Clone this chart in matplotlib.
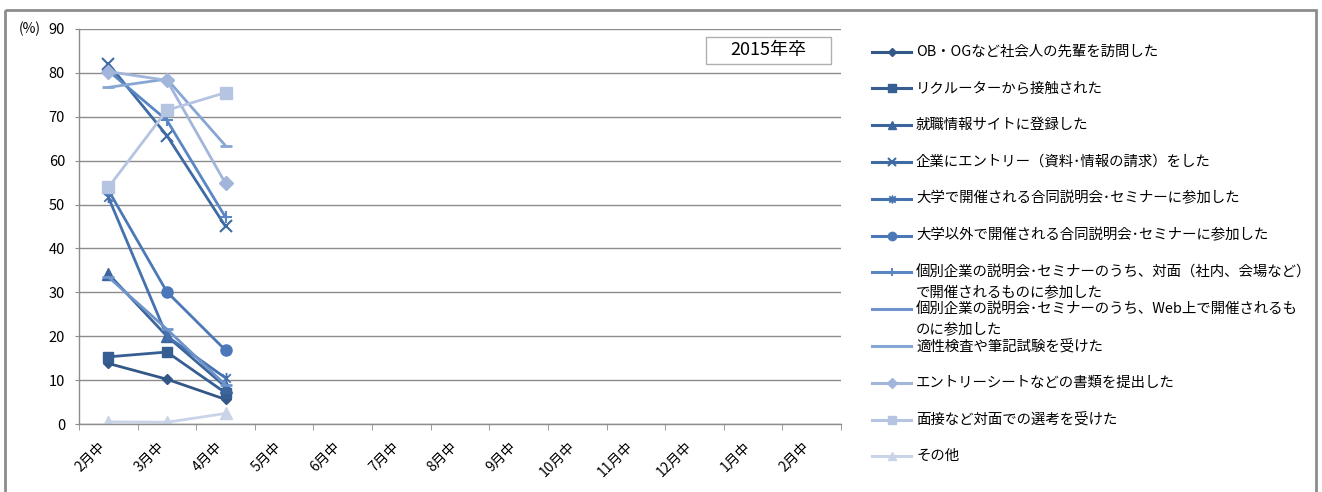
import numpy as np
import matplotlib
matplotlib.use("Agg")
import matplotlib.pyplot as plt
from matplotlib.path import Path
from matplotlib.patches import Rectangle
from matplotlib.lines import Line2D

plt.rcParams['font.family'] = ['Noto Sans CJK JP', 'DejaVu Sans']

categories = ["2月中", "3月中", "4月中", "5月中", "6月中", "7月中", "8月中",
              "9月中", "10月中", "11月中", "12月中", "1月中", "2月中"]

labels = [
    "OB・OGなど社会人の先輩を訪問した",
    "リクルーターから接触された",
    "就職情報サイトに登録した",
    "企業にエントリー（資料･情報の請求）をした",
    "大学で開催される合同説明会･セミナーに参加した",
    "大学以外で開催される合同説明会･セミナーに参加した",
    "個別企業の説明会･セミナーのうち、対面（社内、会場など）\nで開催されるものに参加した",
    "個別企業の説明会･セミナーのうち、Web上で開催されるも\nのに参加した",
    "適性検査や筆記試験を受けた",
    "エントリーシートなどの書類を提出した",
    "面接など対面での選考を受けた",
    "その他",
]

ob_visit      = [13.8, 10.2, 5.6]
recruiter     = [15.3, 16.4, 7.1]
job_site      = [34.2, 20.0, 8.5]
entry         = [82.1, 65.7, 45.0]
univ_seminar  = [51.7, 20.0, 10.5]
other_seminar = [53.3, 30.1, 16.8]
company_face  = [80.5, 69.2, 47.1]
company_web   = [33.5, 21.6, 8.9]
aptitude      = [76.7, 78.6, 63.4]
entry_sheet   = [80.3, 78.3, 54.8]
interview     = [53.9, 71.5, 75.5]
others        = [0.5, 0.4, 2.4]

series = [ob_visit, recruiter, job_site, entry, univ_seminar, other_seminar,
          company_face, company_web, aptitude, entry_sheet, interview, others]

colors = ["#335887", "#375E93", "#3B659C", "#3F6BA5", "#4571AE", "#4A78B8",
          "#5A86C4", "#6F94CB", "#88A6D3", "#A1B6DA", "#B5C4E1", "#C9D4E8"]

# Excel-like asterisk marker (x plus vertical bar)
ast = Path([(-1, -1), (1, 1), (-1, 1), (1, -1), (0, -1.3), (0, 1.3)],
           [Path.MOVETO, Path.LINETO, Path.MOVETO, Path.LINETO, Path.MOVETO, Path.LINETO])

markers = ['D', 's', '^', 'x', ast, 'o', '+', '_', '_', 'D', 's', '^']
msizes  = [5.5, 7.5, 8, 8, 8, 8, 8, 8, 8, 7, 8.5, 8.5]
mews    = [1, 1, 1, 1.5, 1.3, 1, 1.5, 2, 2, 1, 1, 1]

W, H = 1322, 492
fig = plt.figure(figsize=(W / 100, H / 100), dpi=100)

# outer frame
bg = fig.add_axes([0, 0, 1, 1])
bg.set_xlim(0, W)
bg.set_ylim(H, 0)
bg.axis('off')
bg.add_patch(Rectangle((5, 10), 1311, 490, fill=False, edgecolor='#8c8c8c', lw=2))

L, R, T, B = 79, 841, 29, 424
ax = fig.add_axes([L / W, (H - B) / H, (R - L) / W, (B - T) / H])
ax.set_xlim(-0.5, len(categories) - 0.5)
ax.set_ylim(0, 90)
ax.set_yticks(np.arange(0, 91, 10))
ax.yaxis.grid(True, color='#8c8c8c', lw=1)
ax.set_axisbelow(True)
for s in ['top', 'right']:
    ax.spines[s].set_visible(False)
for s in ['left', 'bottom']:
    ax.spines[s].set_color('#8c8c8c')
    ax.spines[s].set_linewidth(1)
ax.tick_params(axis='y', length=3, color='#8c8c8c', labelsize=10.5, pad=7)
ax.set_xticks(np.arange(len(categories)))
ax.set_xticklabels(categories, rotation=45, ha='right', va='top', fontsize=10)
ax.tick_params(axis='x', which='major', length=0, pad=11)
ax.set_xticks(np.arange(-0.5, len(categories), 1), minor=True)
ax.tick_params(axis='x', which='minor', length=4, color='#8c8c8c')

x = np.arange(3)
for vals, c, m, ms, mew in zip(series, colors, markers, msizes, mews):
    ax.plot(x, vals, color=c, lw=2, marker=m, ms=ms, mew=mew,
            markerfacecolor=c, markeredgecolor=c, solid_capstyle='round')

fig.text(30 / W, 1 - 29 / H, "(%)", ha='center', va='center', fontsize=10)

# title box
ax.add_patch(Rectangle((0.8228, 0.9114), 0.1641, 0.0683, transform=ax.transAxes,
                       fill=True, facecolor='white', edgecolor='#b0b0b0', lw=1,
                       clip_on=False, zorder=5))
ax.text(0.9048, 0.9456, "2015年卒", transform=ax.transAxes, ha='center',
        va='center', fontsize=13, zorder=6)

# legend
for i, (lab, c, m, ms, mew) in enumerate(zip(labels, colors, markers, msizes, mews)):
    y = 51.5 + i * 36.8
    bg.add_line(Line2D([872, 911], [y, y], color=c, lw=2.2))
    bg.add_line(Line2D([891.5], [y], color=c, marker=m, ms=ms * 0.75, mew=mew,
                       markerfacecolor=c, markeredgecolor=c))
    lines = lab.split("\n")
    for j, ln in enumerate(lines):
        bg.text(916, y + j * 20.5, ln, ha='left', va='center', fontsize=10.4)

fig.savefig("out.png", dpi=100)
